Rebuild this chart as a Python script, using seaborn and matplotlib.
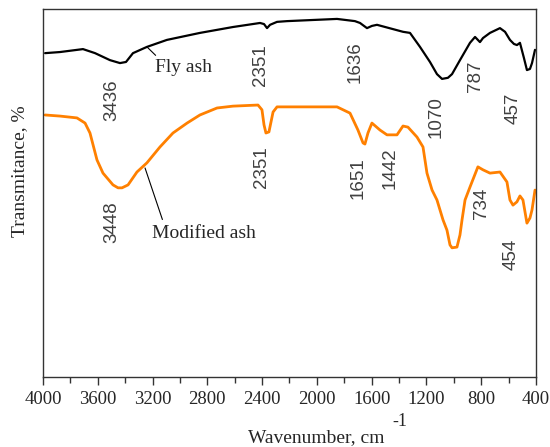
import numpy as np
import pandas as pd
import seaborn as sns
import matplotlib.pyplot as plt
import matplotlib.transforms as mtransforms
from matplotlib.ticker import MultipleLocator

# FTIR spectra (wavenumber cm-1, transmittance in arbitrary %)
fly_wn = [3985, 3876, 3708, 3620, 3511, 3438, 3394, 3343, 3241, 3095, 2854, 2613,
          2415, 2386, 2364, 2342, 2291, 2218, 1853, 1722, 1685, 1656, 1634, 1598,
          1561, 1371, 1320, 1247, 1174, 1123, 1086, 1043, 1013, 955, 882, 845, 809,
          787, 736, 663, 626, 590, 561, 539, 517, 488, 466, 444, 429, 407]
fly_t = [88.0, 88.3, 89.1, 88.0, 86.1, 85.3, 85.6, 88.0, 89.7, 91.6, 93.5, 95.1,
         96.2, 95.9, 94.8, 95.7, 96.5, 96.7, 97.3, 96.7, 96.2, 95.4, 94.8, 95.4,
         95.7, 93.8, 93.5, 89.7, 85.6, 82.3, 81.0, 81.3, 82.3, 86.1, 90.8, 92.4, 91.0,
         92.1, 93.5, 94.8, 93.8, 91.6, 90.5, 90.2, 90.8, 86.7, 83.4, 83.7, 85.3, 88.9]

mod_wn = [3985, 3876, 3752, 3693, 3657, 3606, 3562, 3489, 3452, 3423, 3379, 3314,
          3241, 3146, 3051, 2948, 2854, 2729, 2613, 2430, 2401, 2386, 2372, 2350,
          2335, 2320, 2291, 2101, 1853, 1758, 1700, 1663, 1649, 1627, 1598, 1539,
          1488, 1415, 1371, 1335, 1269, 1225, 1196, 1159, 1123, 1079, 1050, 1028,
          1013, 977, 955, 940, 918, 882, 824, 787, 736, 663, 612, 590, 568, 539,
          517, 495, 466, 444, 429, 407]
mod_t = [71.2, 70.9, 70.4, 69.0, 66.3, 59.0, 55.4, 52.2, 51.4, 51.4, 52.2, 55.7,
         58.2, 62.5, 66.3, 69.0, 71.2, 73.1, 73.6, 73.9, 72.6, 68.5, 66.3, 66.6,
         69.3, 72.0, 73.4, 73.4, 73.4, 71.7, 67.1, 63.6, 63.3, 66.3, 69.0, 67.1,
         65.8, 65.8, 68.2, 67.9, 65.2, 62.5, 55.4, 50.8, 48.1, 42.7, 39.9, 35.9,
         35.1, 35.3, 38.6, 42.7, 48.1, 51.6, 57.1, 56.3, 55.4, 55.7, 53.0, 48.1,
         46.7, 47.6, 49.2, 48.1, 41.8, 43.2, 45.4, 50.8]

# peak labels: text, x, y
peak_txt = ["3436", "2351", "1636", "1070", "787", "457",
            "3448", "2351", "1651", "1442", "734", "454"]
peak_x = [3496, 2415, 1722, 1130, 838, 568, 3496, 2408, 1700, 1466, 795, 583]
peak_y = [75.3, 84.8, 85.6, 70.7, 81.8, 73.1, 42.1, 57.1, 54.1, 56.8, 47.2, 33.4]

df = pd.concat([
    pd.DataFrame({"wn": fly_wn, "t": fly_t, "sample": "Fly ash"}),
    pd.DataFrame({"wn": mod_wn, "t": mod_t, "sample": "Modified ash"}),
])

sns.set_style("white")
plt.rcParams["font.family"] = ["Liberation Serif", "DejaVu Serif"]

fig = plt.figure(figsize=(5.5, 4.47), dpi=100)
ax = fig.add_axes([0.0782, 0.1566, 0.8963, 0.8233])

sns.lineplot(data=df[df["sample"] == "Fly ash"], x="wn", y="t", color="black",
             lw=1.6, ax=ax, legend=False)
sns.lineplot(data=df[df["sample"] == "Modified ash"], x="wn", y="t", color="#ff8000",
             lw=2.0, ax=ax, legend=False)

ax.set_xlim(4000, 400)
ax.set_ylim(0, 100)
ax.set_yticks([])
ax.xaxis.set_major_locator(MultipleLocator(400))
ax.xaxis.set_minor_locator(MultipleLocator(200))
ax.tick_params(axis="x", which="major", direction="out", length=6, width=1,
               color="#333333", labelsize=13.5, pad=4, bottom=True)
ax.tick_params(axis="x", which="minor", direction="out", length=4, width=1,
               color="#333333", bottom=True)
for s in ax.spines.values():
    s.set_color("#333333")
    s.set_linewidth(1)
ax.set_xlabel("")
ax.set_ylabel("")

# first tick label sits a little left of its tick in the original
fig.canvas.draw()
first = ax.get_xticklabels()[0]
first.set_transform(first.get_transform() +
                    mtransforms.ScaledTranslation(-6 / 72, 0, fig.dpi_scale_trans))

for txt, x, y in zip(peak_txt, peak_x, peak_y):
    ax.text(x, y, txt, rotation=90, ha="center", va="center", fontsize=13.5,
            color="#404040", family="Liberation Sans")

ax.annotate("Fly ash", xy=(3241, 89.7), xytext=(3182, 84.2), fontsize=14,
            ha="left", va="center",
            arrowprops=dict(arrowstyle="-", color="black", lw=0.8,
                            shrinkA=0, shrinkB=0, relpos=(0.1, 0.9)))
ax.annotate("Modified ash", xy=(3255, 56.8), xytext=(3204, 39.1), fontsize=14,
            ha="left", va="center",
            arrowprops=dict(arrowstyle="-", color="black", lw=0.8,
                            shrinkA=0, shrinkB=0, relpos=(0.1, 1.3)))

fig.text(248 / 550, 1 - 438 / 447, "Wavenumber, cm", fontsize=14,
         ha="left", va="center")
fig.text(392 / 550, 1 - 421 / 447, "-1", fontsize=13, ha="left", va="center")
fig.text(20 / 550, 1 - 171 / 447, "Transmitance, %", fontsize=14, rotation=90,
         ha="center", va="center")

fig.savefig("out.png", dpi=100)
